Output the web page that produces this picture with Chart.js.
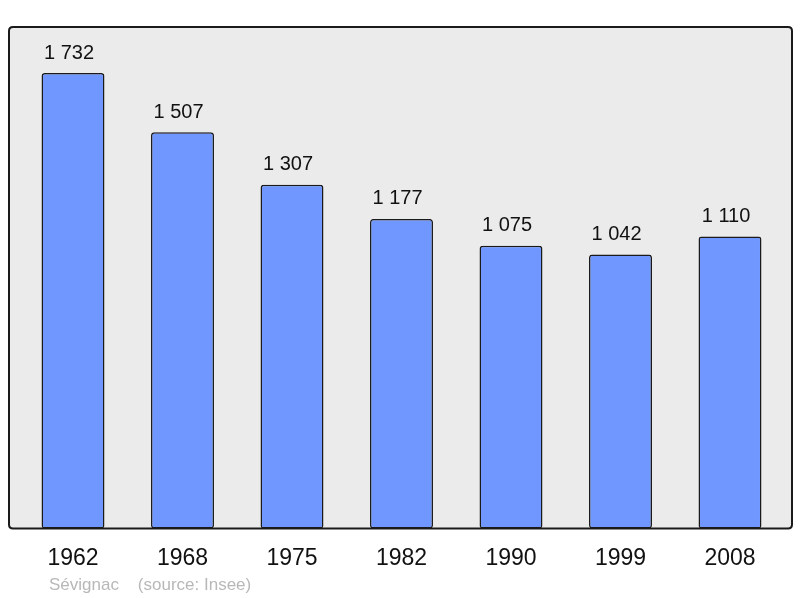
<!DOCTYPE html>
<html>
<head>
<meta charset="utf-8">
<script src="https://cdn.jsdelivr.net/npm/chart.js@4/dist/chart.umd.min.js"></script>
<style>
  html, body { margin: 0; padding: 0; background: #fff; }
  #box { width: 800px; height: 598px; }
</style>
</head>
<body>
<div id="box"><canvas id="myChart"></canvas></div>
<script>
const years = ['1962', '1968', '1975', '1982', '1990', '1999', '2008'];
const population = [1732, 1507, 1307, 1177, 1075, 1042, 1110];
const yMax = 1907;
const footerText = 'Sévignac    (source: Insee)';

// thousands with a space, like "1 732"
function fmt(n) {
    return String(n).replace(/\B(?=(\d{3})+(?!\d))/g, ' ');
}

function roundRect(ctx, x, y, w, h, r) {
    ctx.beginPath();
    ctx.moveTo(x + r, y);
    ctx.lineTo(x + w - r, y);
    ctx.quadraticCurveTo(x + w, y, x + w, y + r);
    ctx.lineTo(x + w, y + h - r);
    ctx.quadraticCurveTo(x + w, y + h, x + w - r, y + h);
    ctx.lineTo(x + r, y + h);
    ctx.quadraticCurveTo(x, y + h, x, y + h - r);
    ctx.lineTo(x, y + r);
    ctx.quadraticCurveTo(x, y, x + r, y);
    ctx.closePath();
}

// grey plot frame, a bit wider than the chart area
const frame = {
    id: 'frame',
    beforeDatasetsDraw(chart) {
        const a = chart.chartArea, c = chart.ctx;
        c.save();
        roundRect(c, 9, a.top, 783, a.bottom - a.top, 4);
        c.fillStyle = '#ebebeb';
        c.fill();
        c.restore();
    },
    afterDatasetsDraw(chart) {
        const a = chart.chartArea, c = chart.ctx;
        c.save();
        roundRect(c, 9, a.top, 783, a.bottom - a.top, 4);
        c.lineWidth = 2;
        c.strokeStyle = '#1a1a1a';
        c.stroke();

        // value labels over bars (sit a little left of centre, as in the original)
        c.font = '20px "Liberation Sans", Arial, sans-serif';
        c.fillStyle = '#111';
        c.textAlign = 'center';
        c.textBaseline = 'alphabetic';
        chart.getDatasetMeta(0).data.forEach((bar, i) => {
            c.fillText(fmt(population[i]), bar.x - 4, bar.y - 14.5);
        });

        // footer
        c.font = '17px "Liberation Sans", Arial, sans-serif';
        c.fillStyle = '#b8b8b8';
        c.textAlign = 'left';
        c.fillText(footerText, 49, 590);
        c.restore();
    }
};

const ctx = document.getElementById('myChart').getContext('2d');
const myChart = new Chart(ctx, {
    type: 'bar',
    data: {
        labels: years,
        datasets: [{
            data: population,
            backgroundColor: '#7097ff',
            borderColor: '#1a1a1a',
            borderWidth: 1.5,
            borderSkipped: false,
            borderRadius: 3,
            categoryPercentage: 0.575,
            barPercentage: 1
        }]
    },
    options: {
        responsive: true,
        maintainAspectRatio: false,
        animation: false,
        layout: {
            padding: { left: 18.25, right: 15.25, top: 27, bottom: 10 }
        },
        plugins: {
            legend: { display: false },
            tooltip: { enabled: false }
        },
        scales: {
            x: {
                grid: { display: false, drawTicks: false },
                border: { display: false },
                ticks: {
                    padding: 16,
                    color: '#111',
                    font: { family: '"Liberation Sans", Arial, sans-serif', size: 23 }
                }
            },
            y: {
                display: false,
                min: 0,
                max: yMax
            }
        }
    },
    plugins: [frame]
});
</script>
</body>
</html>
